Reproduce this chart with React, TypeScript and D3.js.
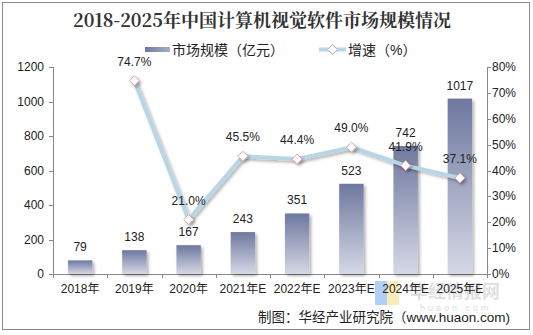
import React from "react";
import * as d3 from "d3";

const categories = ["2018年", "2019年", "2020年", "2021年E", "2022年E", "2023年E", "2024年E", "2025年E"];
const marketSize = [79, 138, 167, 243, 351, 523, 742, 1017];
const growth = [null, 74.7, 21.0, 45.5, 44.4, 49.0, 41.9, 37.1];
const leftTicks = [0, 200, 400, 600, 800, 1000, 1200];
const rightTicks = [0, 10, 20, 30, 40, 50, 60, 70, 80];

export default function App() {
  const W = 533, H = 335;
  const left = 53, right = 487, top = 67, bottom = 274;
  const x = d3.scaleBand().domain(categories).range([left, right]).paddingInner(0.55).paddingOuter(0.275);
  const xc = d3.scaleBand().domain(categories).range([left, right]);
  const y = d3.scaleLinear().domain([0, 1200]).range([bottom, top]);
  const y2 = d3.scaleLinear().domain([0, 80]).range([bottom, top]);
  const pts = categories.map((c, i) => ({ c, v: growth[i] })).filter(d => d.v !== null) as { c: string; v: number }[];
  const line = d3.line<{ c: string; v: number }>()
    .x(d => (xc(d.c) as number) + xc.bandwidth() / 2)
    .y(d => y2(d.v));
  const font = "Arial, 'Liberation Sans', 'Noto Sans CJK SC', sans-serif";
  const bw = x.bandwidth();
  return (
    <svg width={W} height={H} style={{ position: "absolute", left: 0, top: 0 }} fontFamily={font}>
      <defs>
        <linearGradient id="bg" x1="0" y1="0" x2="0" y2="1">
          <stop offset="0" stopColor="#6e789f" />
          <stop offset="1" stopColor="#d5d8e5" />
        </linearGradient>
        <linearGradient id="lg" x1="0" y1="0" x2="1" y2="0">
          <stop offset="0" stopColor="#6e789f" />
          <stop offset="1" stopColor="#a7aec8" />
        </linearGradient>
        <filter id="sh" x="-30%" y="-30%" width="160%" height="160%">
          <feDropShadow dx="2" dy="2" stdDeviation="1.5" floodColor="#000" floodOpacity="0.3" />
        </filter>
      </defs>
      <rect x={0} y={0} width={W} height={H} fill="#fff" />
      <rect x={2.5} y={2.5} width={527} height={327} fill="none" stroke="#8a8a8a" strokeWidth={1} />
      {/* watermark (behind) */}
      <rect x={375} y={281} width={12} height={24} fill="#9cc3f5" opacity={0.8} />
      <rect x={387} y={281} width={12} height={24} fill="#f7e7a6" opacity={0.8} />
      <text x={410} y={298} fontSize={18} fontWeight="bold" fill="#d8d8d8" opacity={0.8}>华经情报网</text>
      <text x={420} y={311} fontSize={9} fill="#dcdcdc" letterSpacing={3}>huaon.com</text>
      <text x={262} y={27} textAnchor="middle" fontSize={18} fontWeight="bold" fill="#333"
        fontFamily="'Noto Serif CJK SC', 'Noto Sans CJK SC', serif">2018-2025年中国计算机视觉软件市场规模情况</text>
      {/* legend */}
      <rect x={145} y={47} width={25} height={5} fill="url(#lg)" />
      <text x={172} y={54.5} fontSize={14} fill="#222">市场规模（亿元）</text>
      <line x1={319} y1={49.5} x2={346} y2={49.5} stroke="#b7d6e6" strokeWidth={4} />
      <path d={`M332.5,44.5 L337.5,49.5 L332.5,54.5 L327.5,49.5 Z`} fill="#fff" stroke="#e0a0a0" strokeWidth={1} />
      <text x={348} y={54.5} fontSize={14} fill="#222">增速（%）</text>
      {/* axes */}
      <line x1={left + 0.5} y1={top} x2={left + 0.5} y2={bottom} stroke="#888" />
      <line x1={right + 0.5} y1={top} x2={right + 0.5} y2={bottom} stroke="#888" />
      <line x1={left} y1={bottom + 0.5} x2={right} y2={bottom + 0.5} stroke="#888" />
      {leftTicks.map(t => (
        <g key={"l" + t}>
          <line x1={left - 4} x2={left} y1={Math.round(y(t)) + 0.5} y2={Math.round(y(t)) + 0.5} stroke="#888" />
          <text x={44} y={y(t) + 4} textAnchor="end" fontSize={12} fill="#222">{t}</text>
        </g>
      ))}
      {rightTicks.map(t => (
        <g key={"r" + t}>
          <line x1={right} x2={right + 4} y1={Math.round(y2(t)) + 0.5} y2={Math.round(y2(t)) + 0.5} stroke="#888" />
          <text x={492} y={y2(t) + 4} fontSize={12} fill="#222">{t}%</text>
        </g>
      ))}
      {categories.map((c, i) => (
        <g key={c}>
          <line x1={Math.round(xc(c) as number) + 0.5} x2={Math.round(xc(c) as number) + 0.5} y1={bottom} y2={bottom + 4} stroke="#888" />
          <text x={(xc(c) as number) + xc.bandwidth() / 2} y={293} textAnchor="middle" fontSize={12} fill="#222">{c}</text>
        </g>
      ))}
      <line x1={right + 0.5} x2={right + 0.5} y1={bottom} y2={bottom + 4} stroke="#888" />
      {/* bars */}
      {categories.map((c, i) => (
        <rect key={"b" + c} x={x(c)} y={y(marketSize[i])} width={bw} height={bottom - y(marketSize[i])}
          fill="url(#bg)" filter="url(#sh)" />
      ))}
      {categories.map((c, i) => (
        <text key={"bl" + c} x={(x(c) as number) + bw / 2} y={y(marketSize[i]) - 9} textAnchor="middle" fontSize={12} fill="#222">{marketSize[i]}</text>
      ))}
      {/* line */}
      <path d={line(pts) as string} fill="none" stroke="#b7d6e6" strokeWidth={4} strokeLinejoin="round" filter="url(#sh)" />
      {pts.map(d => {
        const cx = (xc(d.c) as number) + xc.bandwidth() / 2;
        const cy = y2(d.v);
        return (
          <path key={"m" + d.c} d={`M${cx},${cy - 5} L${cx + 5},${cy} L${cx},${cy + 5} L${cx - 5},${cy} Z`}
            fill="#fff" stroke="#e0a0a0" strokeWidth={1} filter="url(#sh)" />
        );
      })}
      {pts.map(d => {
        const cx = (xc(d.c) as number) + xc.bandwidth() / 2;
        const cy = y2(d.v);
        return (
          <text key={"ml" + d.c} x={cx} y={cy - 15} textAnchor="middle" fontSize={12} fill="#222">{d.v.toFixed(1)}%</text>
        );
      })}
      <text x={510} y={322} textAnchor="end" fontSize={13.5} fill="#222">制图：华经产业研究院（www.huaon.com)</text>
    </svg>
  );
}
